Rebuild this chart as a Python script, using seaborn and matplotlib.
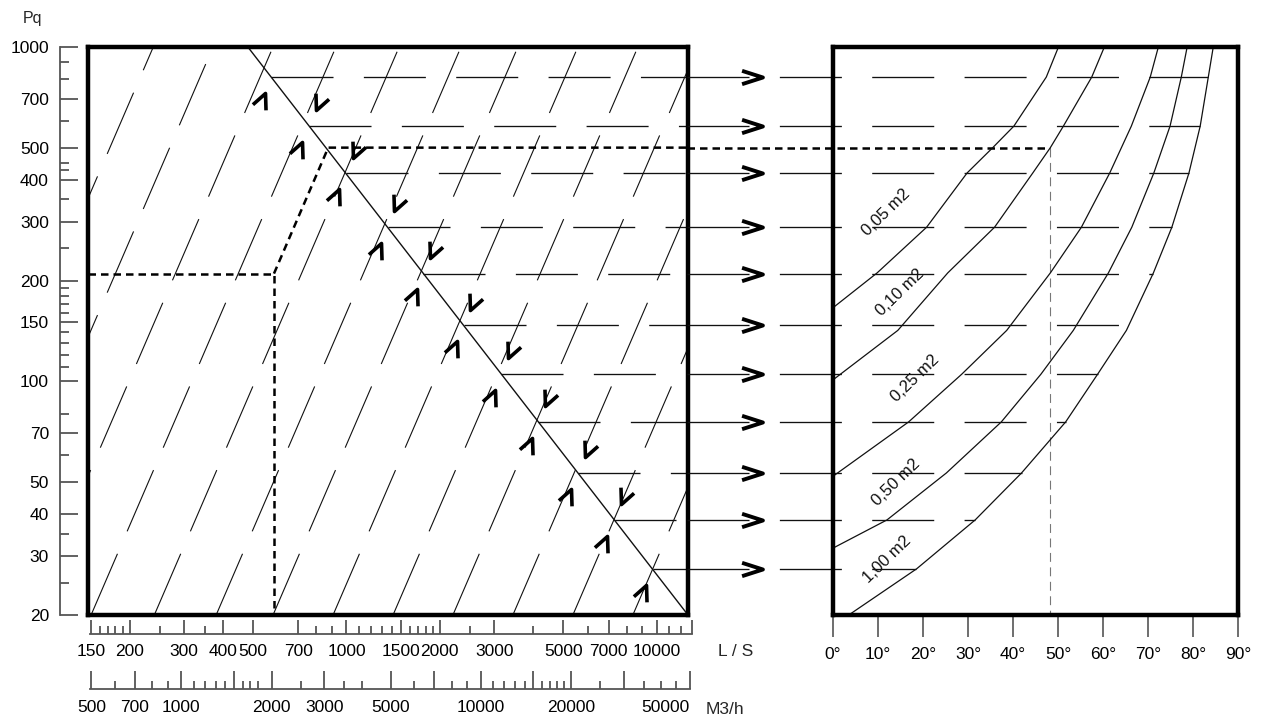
import numpy as np
import pandas as pd
import seaborn as sns
import matplotlib
matplotlib.use("Agg")
import matplotlib.pyplot as plt
from matplotlib.path import Path
from matplotlib.markers import MarkerStyle
from matplotlib.transforms import Affine2D
from matplotlib.ticker import FixedLocator, FixedFormatter, NullFormatter

# ---- scales ----
PQ_TICKS = [20, 30, 40, 50, 70, 100, 150, 200, 300, 400, 500, 700, 1000]
PQ_MINOR = [25, 35, 60, 80, 110, 120, 130, 140, 160, 170, 180, 190,
            250, 350, 430, 450, 600, 800, 900]

LS_TICKS = [150, 200, 300, 400, 500, 700, 1000, 1500, 2000, 3000, 5000, 7000, 10000, 13000]
LS_LABELS = ['150', '200', '300', '400', '500', '700', '1000', '1500', '2000',
             '3000', '5000', '7000', '10000', '']
LS_MINOR = [160, 170, 180, 190, 250, 350, 800, 900, 1100, 1200, 1300, 1400,
            1600, 1700, 1800, 1900, 2500, 4000, 6000, 8000, 9000, 11000, 12000]

M3_TICKS = [500, 700, 1000, 1500, 2000, 3000, 5000, 7000, 10000, 15000, 20000, 30000, 50000]
M3_LABELS = ['500', '700', '1000', '', '2000', '3000', '5000', '', '10000', '',
             '20000', '', '50000']
M3_MINOR = [600, 800, 900, 1100, 1200, 1300, 1400, 1600, 1700, 1800, 2500, 3500, 4000,
            6000, 8000, 9000, 11000, 12000, 13000, 14000, 16000, 17000, 18000, 19000,
            25000, 35000, 40000, 45000]

DEG_TICKS = [0, 10, 20, 30, 40, 50, 60, 70, 80, 90]

# ---- left panel (flow L/S vs Pq) ----
level_pq = [811, 581, 419, 289, 210, 147, 105, 75.6, 53.2, 38.5, 27.4]
diag_flow = [481, 12670]
diag_pq = [1000, 20]
slant_flow_at_20 = [38.6, 60.2, 94, 150, 240, 380, 580, 906, 1415, 2208, 3448, 5385, 8410]
slant_exponent = 2.15

# worked example (dashed path)
example_flow = [146.6, 584, 584]
example_pq = [210, 210, 20]
example_rise_flow = [584, 874, 12670]
example_rise_pq = [210, 500, 500]
example_angle = 48.3

# ---- right panel (angle vs Pq, one curve per area) ----
area_labels = ['0,05 m2', '0,10 m2', '0,25 m2', '0,50 m2', '1,00 m2']
curve_005_deg = [50.1, 47.4, 40.2, 35.5, 29.8, 20.8, 9.8, 0.0]
curve_005_pq = [1000, 813, 580, 500, 420, 289, 211, 166]
curve_010_deg = [60.3, 57.5, 51.2, 48.3, 44.4, 35.9, 25.5, 14.4, 0.0]
curve_010_pq = [1000, 813, 580, 500, 420, 289, 211, 142, 101]
curve_025_deg = [72.3, 70.5, 66.3, 61.5, 55.2, 48.3, 38.6, 28.6, 16.8, 0.0]
curve_025_pq = [1000, 813, 580, 420, 289, 211, 142, 105, 75.6, 52]
curve_050_deg = [78.7, 77.4, 74.9, 71.3, 66.4, 61.2, 53.4, 46.2, 37.4, 25.2, 12.0, 0.0]
curve_050_pq = [1000, 813, 580, 420, 289, 211, 142, 105, 75.6, 53.2, 38.5, 31.7]
curve_100_deg = [84.5, 83.4, 81.6, 79.1, 75.3, 71.2, 65.2, 58.8, 51.7, 41.9, 31.6, 18.6, 3.5]
curve_100_pq = [1000, 813, 580, 420, 289, 211, 142, 105, 75.6, 53.2, 38.5, 27.5, 20]

label_deg = [11.8, 14.9, 18.2, 14.0, 12.0]
label_pq = [321, 184, 102, 50, 29.4]

W, H = 1276, 724
INK = '#111111'
GRAY = '#555555'

sns.set_style('white')
plt.rcParams['font.family'] = ['Liberation Sans', 'DejaVu Sans']

fig = plt.figure(figsize=(W / 100, H / 100), dpi=100)


def box(x0, y0, x1, y1):
    return [x0 / W, 1 - y1 / H, (x1 - x0) / W, (y1 - y0) / H]


ax_l = fig.add_axes(box(88, 47, 688, 615))
ax_r = fig.add_axes(box(833, 47, 1238, 615))

for ax in (ax_l, ax_r):
    ax.set_yscale('log')
    ax.set_ylim(20, 1000)
    for s in ax.spines.values():
        s.set_linewidth(3.2)
        s.set_color('black')
    ax.tick_params(axis='y', which='both', left=False, labelleft=False)

ax_l.set_xscale('log')
ax_l.set_xlim(146.6, 12670)
ax_l.tick_params(axis='x', which='both', bottom=False, labelbottom=False)
ax_r.set_xlim(0, 90)

# slanted dashed lines Pq ~ Q^n
for q0 in slant_flow_at_20:
    q_top = q0 * (1000 / 20) ** (1 / slant_exponent)
    sns.lineplot(x=[q0, q_top], y=[20, 1000], ax=ax_l, color=INK, lw=0.8,
                 linestyle=(0, (60, 22)), estimator=None, sort=False)

# diagonal reading line
sns.lineplot(x=diag_flow, y=diag_pq, ax=ax_l, color=INK, lw=1.0,
             estimator=None, sort=False)

# horizontal level lines from the diagonal to the 1,00 m2 curve
lvl = np.array(level_pq, dtype=float)
q_diag = 10 ** np.interp(np.log10(lvl), np.log10(diag_pq[::-1]), np.log10(diag_flow[::-1]))
end_deg = np.interp(np.log10(lvl), np.log10(curve_100_pq[::-1]), curve_100_deg[::-1])
gap_left = -32.4   # right edge of left panel in right panel's angle units
ax_l.hlines(lvl, q_diag, ax_l.get_xlim()[1], colors=INK, lw=0.95,
            linestyles=[(0, (47, 23))])
ax_r.hlines(lvl, gap_left, end_deg, colors=INK, lw=0.95,
            linestyles=[(0, (47, 23))], clip_on=False)

# worked example path
ax_l.plot(example_flow, example_pq, color='black', lw=1.8, linestyle=(0, (3, 2)))
ax_l.plot(example_rise_flow, example_rise_pq, color='black', lw=1.8, linestyle=(0, (3, 2)))
ax_r.plot([gap_left, example_angle], [500, 500], color='black', lw=1.8,
          linestyle=(0, (3, 2)), clip_on=False)
ax_r.plot([example_angle, example_angle], [500, 20], color='#777777', lw=0.8,
          linestyle=(0, (8, 5)))

# area curves
curves = pd.concat([
    pd.DataFrame({'angle': d, 'pq': p, 'area': a})
    for d, p, a in zip(
        [curve_005_deg, curve_010_deg, curve_025_deg, curve_050_deg, curve_100_deg],
        [curve_005_pq, curve_010_pq, curve_025_pq, curve_050_pq, curve_100_pq],
        area_labels)
])
sns.lineplot(data=curves, x='angle', y='pq', units='area', estimator=None, sort=False,
             color=INK, lw=0.9, ax=ax_r)
ax_r.set(xlabel='', ylabel='')
for d, p, t in zip(label_deg, label_pq, area_labels):
    ax_r.text(d, p, t, rotation=44, ha='center', va='center', fontsize=12,
              rotation_mode='anchor', color=INK)

# arrowheads
chev = Path([(-0.42, -0.45), (0, 0.45), (0.42, -0.45)],
            [Path.MOVETO, Path.LINETO, Path.LINETO])
gt = Path([(-0.5, 0.32), (0.5, 0), (-0.5, -0.32)],
          [Path.MOVETO, Path.LINETO, Path.LINETO])


def marker(path, rot):
    return MarkerStyle(path, fillstyle='none', transform=Affine2D().rotate_deg(rot))


p0 = ax_l.transData.transform((1000, 100))
p1 = ax_l.transData.transform((2000, 100 * 2 ** slant_exponent))
slant_ang = np.degrees(np.arctan2(p1[1] - p0[1], p1[0] - p0[0]))

step = 1.17
low_q = q_diag * step ** (-1 / slant_exponent)
low_pq = lvl / step
up_q = q_diag[1:-1] * step ** (1 / slant_exponent)
up_pq = lvl[1:-1] * step
ax_l.plot(low_q, low_pq, ls='none', marker=marker(chev, slant_ang - 90), ms=11,
          mec='black', mew=2.6, zorder=5)
ax_l.plot(up_q, up_pq, ls='none', marker=marker(chev, slant_ang + 90), ms=11,
          mec='black', mew=2.6, zorder=5)
ax_r.plot(np.full(len(lvl), -18.0), lvl, ls='none', marker=marker(gt, 0), ms=15,
          mec='black', mew=2.8, clip_on=False, zorder=5)

# degree axis
ax_r.xaxis.set_major_locator(FixedLocator(DEG_TICKS))
ax_r.xaxis.set_major_formatter(FixedFormatter([f'{d}°' for d in DEG_TICKS]))
ax_r.tick_params(axis='x', which='major', direction='out', length=16, width=1.2,
                 color=GRAY, pad=7, labelsize=12.5, labelcolor='black', bottom=True)

# Pq scale on the far left
ax_pq = fig.add_axes(box(60, 47, 60.2, 615))
ax_pq.set_yscale('log')
ax_pq.set_ylim(20, 1000)
ax_pq.patch.set_visible(False)
for s in ('top', 'right', 'bottom'):
    ax_pq.spines[s].set_visible(False)
ax_pq.spines['left'].set_color(GRAY)
ax_pq.spines['left'].set_linewidth(1.3)
ax_pq.xaxis.set_visible(False)
ax_pq.yaxis.set_major_locator(FixedLocator(PQ_TICKS))
ax_pq.yaxis.set_major_formatter(FixedFormatter([str(v) for v in PQ_TICKS]))
ax_pq.yaxis.set_minor_locator(FixedLocator(PQ_MINOR))
ax_pq.yaxis.set_minor_formatter(NullFormatter())
ax_pq.tick_params(axis='y', which='major', direction='in', length=13, width=1.3,
                  color=GRAY, pad=8, labelsize=12.5, labelcolor='black',
                  left=True, labelleft=True)
ax_pq.tick_params(axis='y', which='minor', direction='in', length=6.5, width=1.3,
                  color=GRAY, left=True)


def flow_scale(rect, lims, ticks, labels, minor, major_len, minor_len, pad):
    ax = fig.add_axes(rect)
    ax.set_xscale('log')
    ax.set_xlim(*lims)
    ax.patch.set_visible(False)
    for s in ('top', 'right', 'left'):
        ax.spines[s].set_visible(False)
    ax.spines['bottom'].set_color(GRAY)
    ax.spines['bottom'].set_linewidth(1.3)
    ax.yaxis.set_visible(False)
    ax.xaxis.set_major_locator(FixedLocator(ticks))
    ax.xaxis.set_major_formatter(FixedFormatter(labels))
    ax.xaxis.set_minor_locator(FixedLocator(minor))
    ax.xaxis.set_minor_formatter(NullFormatter())
    ax.tick_params(axis='x', which='major', direction='in', length=major_len, width=1.3,
                   color=GRAY, pad=pad, labelsize=12.5, labelcolor='black',
                   bottom=True, labelbottom=True)
    ax.tick_params(axis='x', which='minor', direction='in', length=minor_len, width=1.3,
                   color=GRAY, bottom=True)
    return ax


ax_ls = flow_scale(box(90, 634, 692, 634.05), (149, 13000), LS_TICKS, LS_LABELS,
                   LS_MINOR, 10, 5.5, 7)
ax_m3 = flow_scale(box(90, 689, 690, 689.05), (495, 50000), M3_TICKS, M3_LABELS,
                   M3_MINOR, 13, 6, 8)
ax_m3.get_xticklabels()[-1].set_horizontalalignment('right')

fig.text(32 / W, 1 - 18 / H, 'Pq', fontsize=11.5, ha='center', va='center')
fig.text(718 / W, 1 - 652 / H, 'L / S', fontsize=12.5, ha='left', va='center')
fig.text(706 / W, 1 - 709 / H, 'M3/h', fontsize=12.5, ha='left', va='center')

fig.savefig('out.png', dpi=100)
